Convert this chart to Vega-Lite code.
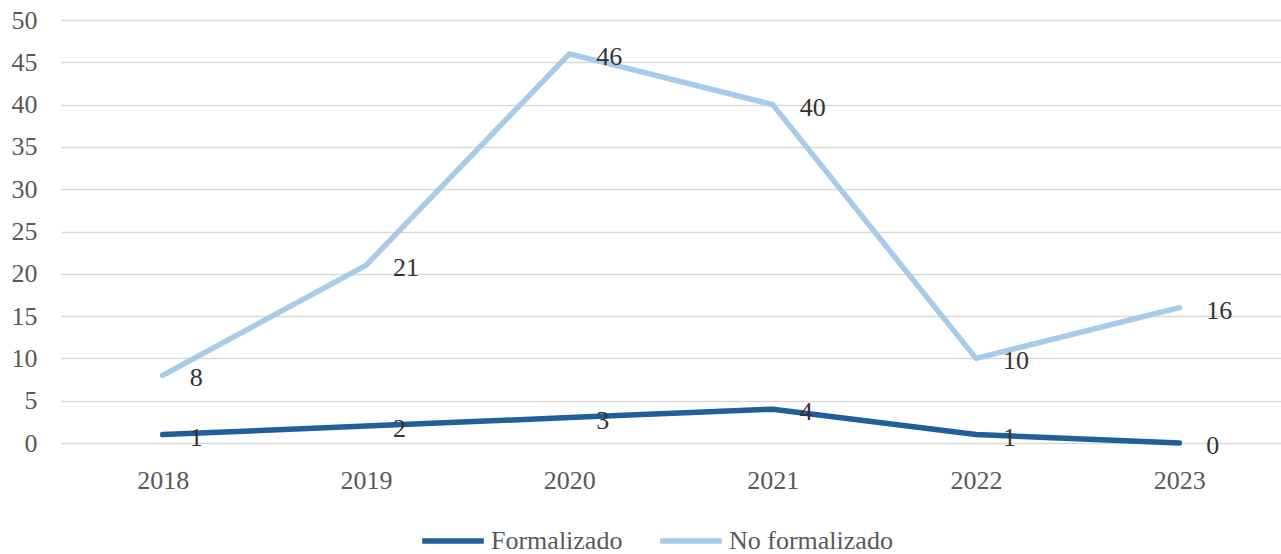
{
  "$schema": "https://vega.github.io/schema/vega-lite/v6.json",
  "width": 1220,
  "height": 423,
  "autosize": "none",
  "padding": {"left": 61, "top": 20, "right": 0, "bottom": 111},
  "background": "white",
  "config": {
    "view": {"stroke": null},
    "font": "'Liberation Serif', 'Times New Roman', 'DejaVu Serif', serif"
  },
  "data": {
    "values": [
      {"year": "2018", "serie": "Formalizado", "value": 1},
      {"year": "2019", "serie": "Formalizado", "value": 2},
      {"year": "2020", "serie": "Formalizado", "value": 3},
      {"year": "2021", "serie": "Formalizado", "value": 4},
      {"year": "2022", "serie": "Formalizado", "value": 1},
      {"year": "2023", "serie": "Formalizado", "value": 0},
      {"year": "2018", "serie": "No formalizado", "value": 8},
      {"year": "2019", "serie": "No formalizado", "value": 21},
      {"year": "2020", "serie": "No formalizado", "value": 46},
      {"year": "2021", "serie": "No formalizado", "value": 40},
      {"year": "2022", "serie": "No formalizado", "value": 10},
      {"year": "2023", "serie": "No formalizado", "value": 16}
    ]
  },
  "encoding": {
    "x": {
      "field": "year",
      "type": "ordinal",
      "scale": {"type": "point", "padding": 0.5},
      "axis": {
        "title": null,
        "labelAngle": 0,
        "labelFont": "'Liberation Serif', 'Times New Roman', serif",
        "labelFontSize": 26,
        "labelColor": "#595959",
        "labelPadding": 24,
        "ticks": false,
        "domain": false,
        "grid": false
      }
    },
    "y": {
      "field": "value",
      "type": "quantitative",
      "scale": {"domain": [0, 50], "nice": false},
      "axis": {
        "title": null,
        "values": [0, 5, 10, 15, 20, 25, 30, 35, 40, 45, 50],
        "labelFont": "'Liberation Serif', 'Times New Roman', serif",
        "labelFontSize": 26,
        "labelColor": "#595959",
        "labelPadding": 24,
        "ticks": false,
        "domain": false,
        "gridColor": "#d9d9d9",
        "gridWidth": 1.5
      }
    }
  },
  "layer": [
    {
      "mark": {"type": "line", "strokeWidth": 5.5, "strokeCap": "round", "strokeJoin": "round"},
      "encoding": {
        "color": {
          "field": "serie",
          "type": "nominal",
          "scale": {"domain": ["Formalizado", "No formalizado"], "range": ["#225e99", "#a9cbeb"]},
          "legend": {
            "title": null,
            "orient": "none",
            "legendX": 358,
            "legendY": 487,
            "direction": "horizontal",
            "symbolType": "stroke",
            "symbolSize": 3800,
            "symbolStrokeWidth": 5.5,
            "labelFont": "'Liberation Serif', 'Times New Roman', serif",
            "labelFontSize": 26,
            "labelColor": "#595959",
            "labelLimit": 400,
            "labelOffset": 4,
            "columnPadding": 26,
            "symbolOffset": 0
          }
        }
      }
    },
    {
      "mark": {"type": "text", "align": "left", "baseline": "middle", "dx": 27, "dy": 3, "fontSize": 26, "font": "'Liberation Serif', 'Times New Roman', serif", "color": "#333333"},
      "encoding": {
        "text": {"field": "value", "type": "quantitative"}
      }
    }
  ]
}
